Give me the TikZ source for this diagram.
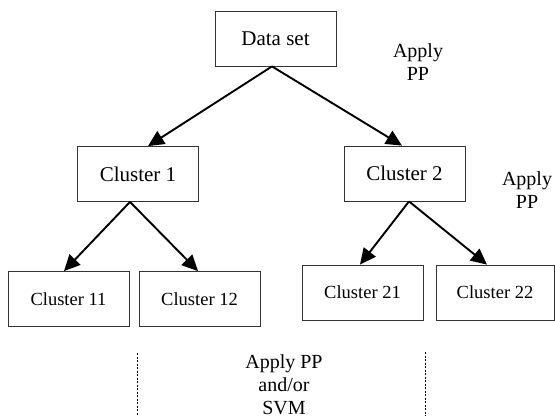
\documentclass[tikz,border=0pt]{standalone}
\usepackage{fontspec}
\setmainfont{Liberation Serif}
\usetikzlibrary{arrows.meta}
\begin{document}
\begin{tikzpicture}[x=1pt,y=-1pt,
  box/.style={draw=black!80,line width=0.8pt,minimum width=121pt,minimum height=55pt,
    inner sep=0pt,font=\fontsize{21}{25}\selectfont},
  smallbox/.style={box,font=\fontsize{18.5}{22}\selectfont},
  link/.style={line width=1.9pt,-{Triangle[length=16pt,width=15pt]}},
  note/.style={align=center,font=\fontsize{20}{23}\selectfont,inner sep=0pt},
  guide/.style={line width=0.6pt,dash pattern=on 2pt off 1.5pt}]
\useasboundingbox (0,0) rectangle (555,418);
% tree of clusters
\node[box] (ds) at (275.5,38.5) {Data set};
\node[box] (c1) at (138,174) {Cluster 1};
\node[box] (c2) at (404.5,173.5) {Cluster 2};
\node[smallbox] (c11) at (68.5,299) {Cluster 11};
\node[smallbox] (c12) at (199.5,299) {Cluster 12};
\node[smallbox] (c21) at (362.5,292.5) {Cluster 21};
\node[smallbox,minimum width=118pt] (c22) at (495,292.5) {Cluster 22};
% splits
\draw[link] ([xshift=-3.5pt]ds.south) -- ([xshift=10pt]c1.north);
\draw[link] ([xshift=-3.5pt]ds.south) -- ([xshift=-2.5pt]c2.north);
\draw[link] ([xshift=-8pt]c1.south) -- ([xshift=-4.5pt]c11.north);
\draw[link] ([xshift=-8pt]c1.south) -- ([xshift=-1.5pt]c12.north);
\draw[link] ([xshift=4.5pt]c2.south) -- ([xshift=-2.5pt]c21.north);
\draw[link] ([xshift=4.5pt]c2.south) -- ([xshift=-8pt]c22.north);
% annotations
\node[note] (pp1) at (418,62) {Apply\\PP};
\node[note] (pp2) at (527,190.5) {Apply\\PP};
\node[note] (pp3) at (284,385) {Apply PP\\and/or\\SVM};
\coordinate (g1a) at (137,353);
\coordinate (g1b) at (137,416);
\coordinate (g2a) at (425,352);
\coordinate (g2b) at (425,416);
\draw[guide] (g1a) -- (g1b);
\draw[guide] (g2a) -- (g2b);
\end{tikzpicture}
\end{document}
